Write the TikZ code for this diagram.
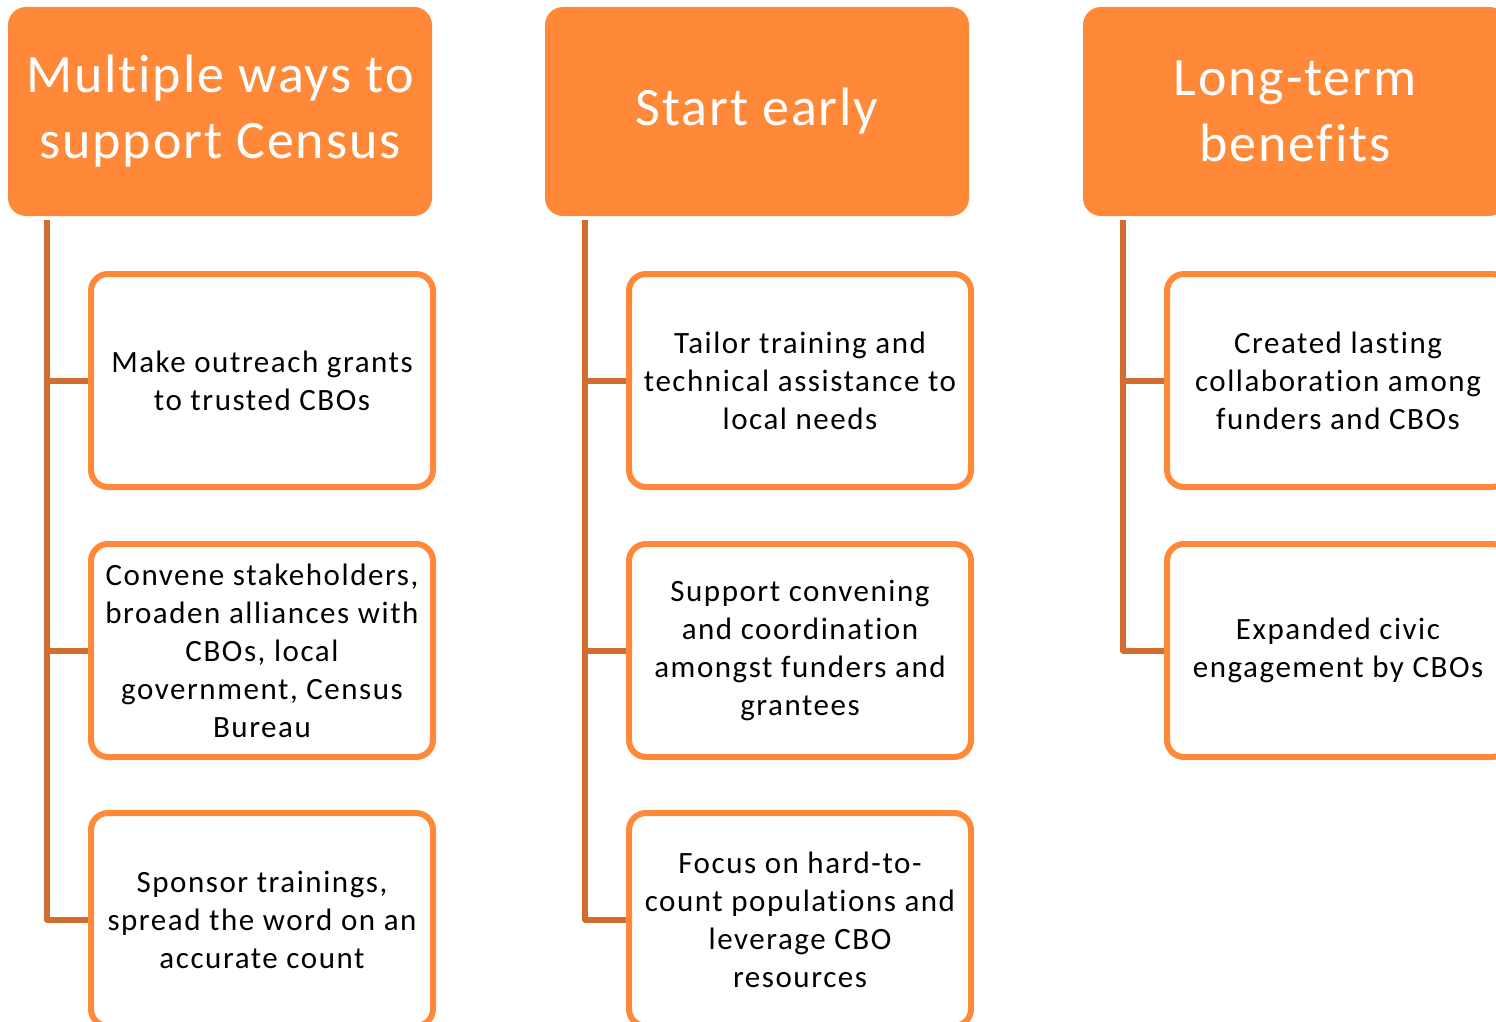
\documentclass[tikz,border=0pt]{standalone}
\usepackage{fontspec}
\setmainfont[Ligatures=NoCommon]{Carlito}
\newfontfamily\boxfont[Ligatures=NoCommon,LetterSpace=5]{Carlito}
\newfontfamily\hdrfont[Ligatures=NoCommon,LetterSpace=3.5]{Carlito}
\definecolor{hdrfill}{RGB}{255,137,56}
\definecolor{boxline}{RGB}{255,137,56}
\definecolor{conn}{RGB}{209,109,46}
\tikzset{
  hdr/.style={fill=hdrfill, draw=none, rounded corners=18pt, minimum width=424pt, minimum height=209pt,
    text=white, align=center, font=\hdrfont\fontsize{54}{66}\selectfont, inner sep=0pt},
  itembox/.style={draw=boxline, line width=6pt, fill=white, rounded corners=17pt, minimum width=342pt, minimum height=213pt,
    align=center, font=\boxfont\fontsize{31}{38}\selectfont, inner sep=0pt},
  link/.style={draw=conn, line width=6pt, line join=round}
}
\begin{document}
\begin{tikzpicture}[x=1pt,y=-1pt]
\useasboundingbox (0,0) rectangle (1496,1022);
\clip (0,0) rectangle (1496,1022);
% headers
\node[hdr] (h1) at (220,111.5) {Multiple ways to\\support Census};
\node[hdr] (h2) at (757,111.5) {Start early};
\node[hdr] (h3) at (1295,111.5) {Long-term\\benefits};
% trunks
\coordinate (t1) at (47,220);
\coordinate (t2) at (585,220);
\coordinate (t3) at (1123,220);
% boxes column 1
\node[itembox] (b11) at (262,380.5) {Make outreach grants\\to trusted CBOs};
\node[itembox] (b12) at (262,650.5) {Convene stakeholders,\\broaden alliances with\\CBOs, local\\government, Census\\Bureau};
\node[itembox] (b13) at (262,919.5) {Sponsor trainings,\\spread the word on an\\accurate count};
% boxes column 2
\node[itembox] (b21) at (800,380.5) {Tailor training and\\technical assistance to\\local needs};
\node[itembox] (b22) at (800,650.5) {Support convening\\and coordination\\amongst funders and\\grantees};
\node[itembox] (b23) at (800,919.5) {Focus on hard-to-\\count populations and\\leverage CBO\\resources};
% boxes column 3
\node[itembox] (b31) at (1338,380.5) {Created lasting\\collaboration among\\funders and CBOs};
\node[itembox] (b32) at (1338,650.5) {Expanded civic\\engagement by CBOs};
% connectors
\draw[link] (t1) |- (b13.west);
\draw[link] (t1 |- b11.west) -- (b11.west);
\draw[link] (t1 |- b12.west) -- (b12.west);
\draw[link] (t2) |- (b23.west);
\draw[link] (t2 |- b21.west) -- (b21.west);
\draw[link] (t2 |- b22.west) -- (b22.west);
\draw[link] (t3) |- (b32.west);
\draw[link] (t3 |- b31.west) -- (b31.west);
\end{tikzpicture}
\end{document}
